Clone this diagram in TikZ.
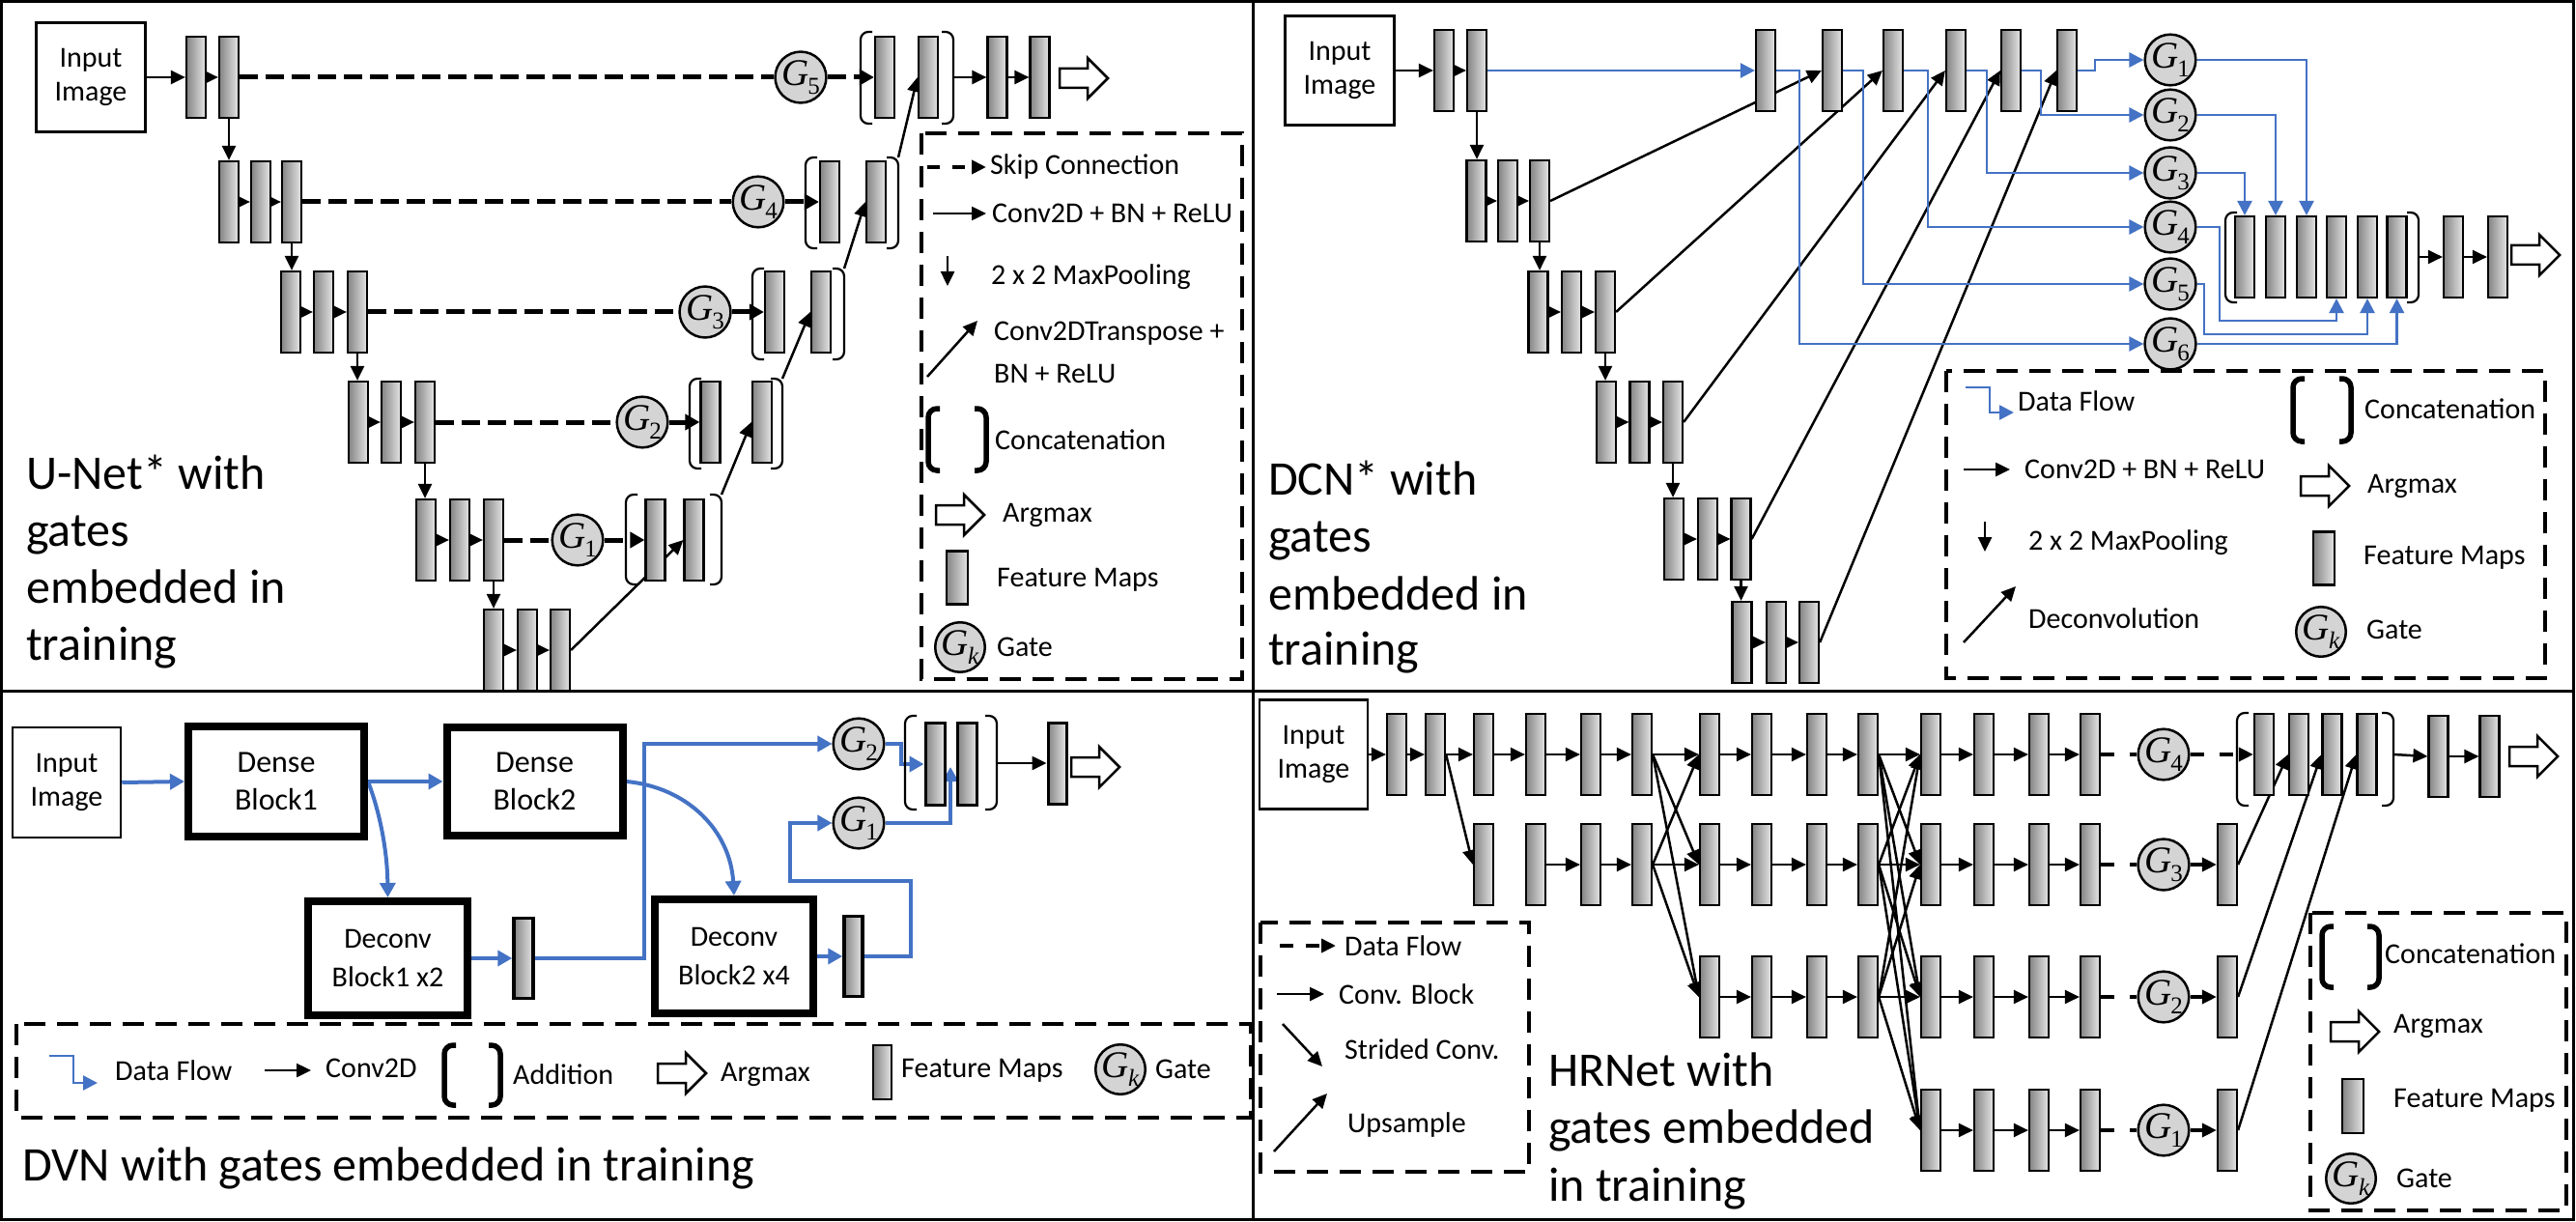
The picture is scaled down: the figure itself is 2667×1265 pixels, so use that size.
\documentclass[tikz,border=0pt]{standalone}
\usepackage{fontspec}
\setmainfont{Carlito}
\newfontfamily\gfont{Liberation Serif}
\usetikzlibrary{arrows.meta}
\definecolor{dblue}{HTML}{4472C4}
\pgfdeclarelayer{bg}
\pgfsetlayers{bg,main}
\newcommand\gsym[1]{{\gfont\itshape G}\kern-1pt\raisebox{-9pt}{\gfont\fontsize{25}{25}\selectfont #1}}
\newcommand\bkt[5]{%
  \draw[#5] ({#1+12},#3) -- (#1,#3) -- (#1,#4) -- ({#1+12},#4);
  \draw[#5] ({#2-12},#3) -- (#2,#3) -- (#2,#4) -- ({#2-12},#4);}
\tikzset{
  fm/.style={draw, line width=2.2pt, minimum width=20pt, minimum height=84pt, inner sep=0pt, left color=black!48, right color=black!10},
  lfm/.style={fm, minimum width=22pt, minimum height=55pt},
  gate/.style={circle, draw, line width=2.5pt, fill=black!17, minimum size=44pt, inner sep=0pt, font=\fontsize{39}{39}\selectfont},
  inbox/.style={draw, line width=2.5pt, align=center, inner sep=0pt, minimum width=113pt, minimum height=113pt, font=\fontsize{30}{35}\selectfont},
  blk/.style={draw, line width=8pt, align=center, inner sep=0pt, font=\fontsize{32}{39}\selectfont},
  arr/.style={line width=2.5pt, -{Triangle[length=15pt,width=14pt]}},
  barr/.style={color=dblue, line width=2.5pt, -{Triangle[length=15pt,width=15pt]}},
  bbarr/.style={color=dblue, line width=4pt, -{Triangle[length=15pt,width=16pt]}},
  skip/.style={line width=5pt, dash pattern=on 19pt off 8pt},
  hdash/.style={line width=3.5pt, dash pattern=on 14pt off 16pt},
  legbox/.style={line width=4pt, dash pattern=on 22pt off 12pt},
  lt/.style={anchor=west, font=\fontsize{30}{36}\selectfont, inner sep=0pt},
  ttl/.style={anchor=base west, font=\fontsize{50}{60}\selectfont, inner sep=0pt},
  brk/.style={line width=2.2pt, rounded corners=8pt},
  lbrk/.style={line width=5.5pt, rounded corners=9pt},
  frame/.style={line width=3pt},
  argmax/.pic={\draw[line width=2.5pt, fill=white] (-25,-10) -- (4,-10) -- (4,-21) -- (25,0) -- (4,21) -- (4,10) -- (-25,10) -- cycle;},
}
\begin{document}
\begin{tikzpicture}[x=1pt,y=-1pt]
\useasboundingbox (0,0) rectangle (2667,1265);
\begin{pgfonlayer}{bg}
\fill[white] (0,0) rectangle (2667,1265);
\end{pgfonlayer}

% ================= U-Net (top left) =================
\node[inbox] (uIn) at (94,80) {Input\\Image};
\foreach \n/\x in {1/203,2/237} \node[fm] (uA\n) at (\x,80) {};
\foreach \n/\x in {1/237,2/270,3/302} \node[fm] (uB\n) at (\x,209) {};
\foreach \n/\x in {1/301,2/335,3/370} \node[fm] (uC\n) at (\x,323) {};
\foreach \n/\x in {1/371,2/405,3/440} \node[fm] (uD\n) at (\x,437) {};
\foreach \n/\x in {1/441,2/476,3/511} \node[fm] (uE\n) at (\x,559) {};
\foreach \n/\x in {1/511,2/546,3/580} \node[fm] (uF\n) at (\x,673) {};
\node[fm] (uL5a) at (678.5,559) {};
\node[fm] (uL5b) at (718.5,559) {};
\node[fm] (uL4a) at (735.5,437) {};
\node[fm] (uL4b) at (789,437) {};
\node[fm] (uL3a) at (802,323) {};
\node[fm] (uL3b) at (850,323) {};
\node[fm] (uL2a) at (859,209) {};
\node[fm] (uL2b) at (907,209) {};
\node[fm] (uL1a) at (916,80) {};
\node[fm] (uL1b) at (961,80) {};
\node[fm] (uP1) at (1032.5,80) {};
\node[fm] (uP2) at (1076.5,80) {};
\bkt{648}{747}{512}{605}{brk}
\bkt{714}{810}{392}{485}{brk}
\bkt{779}{874}{278}{372}{brk}
\bkt{834}{930}{163}{257}{brk}
\bkt{891}{987}{33}{128}{brk}
\coordinate (uK5) at (747,512);
\coordinate (uK4) at (810,392);
\coordinate (uK3) at (874,278);
\coordinate (uK2) at (930,163);
\coordinate (uK1) at (987,80);
\node[gate] (uG5) at (829,80) {\gsym{5}};
\node[gate] (uG4) at (785,209) {\gsym{4}};
\node[gate] (uG3) at (730,323) {\gsym{3}};
\node[gate] (uG2) at (665,437) {\gsym{2}};
\node[gate] (uG1) at (598,559) {\gsym{1}};
\pic (uAm) at (1122,81) {argmax};
\begin{pgfonlayer}{bg}
\draw[arr] (uIn.east) -- (uA1.west);
\draw[arr] (uA1.east) -- (uA2.west);
\foreach \l in {B,C,D,E,F} {
  \draw[arr] (u\l1.east) -- (u\l2.west);
  \draw[arr] (u\l2.east) -- (u\l3.west);}
\draw[arr] (uA2.south) -- (uA2.south |- uB1.north);
\draw[arr] (uB3.south) -- (uB3.south |- uC1.north);
\draw[arr] (uC3.south) -- (uC3.south |- uD1.north);
\draw[arr] (uD3.south) -- (uD3.south |- uE1.north);
\draw[arr] (uE3.south) -- (uE3.south |- uF1.north);
\draw[skip] (uA2.east) -- (uG5.west);
\draw[skip] (uB3.east) -- (uG4.west);
\draw[skip] (uC3.east) -- (uG3.west);
\draw[skip] (uD3.east) -- (uG2.west);
\draw[skip] (uE3.east) -- (uG1.west);
\draw[skip,-{Triangle[length=15pt,width=16pt]}] (uG5.east) -- (uL1a.west);
\draw[skip,-{Triangle[length=15pt,width=16pt]}] (uG4.east) -- (uL2a.west);
\draw[skip,-{Triangle[length=15pt,width=16pt]}] (uG3.east) -- (uL3a.west);
\draw[skip,-{Triangle[length=15pt,width=16pt]}] (uG2.east) -- (uL4a.west);
\draw[skip,-{Triangle[length=15pt,width=16pt]}] (uG1.east) -- (uL5a.west);
\draw[arr] (uF3.east) -- (uL5b.west);
\draw[arr] (uK5) -- (uL4b.west);
\draw[arr] (uK4) -- (uL3b.west);
\draw[arr] (uK3) -- (uL2b.west);
\draw[arr] (uK2) -- (uL1b.west);
\draw[arr] (uK1) -- (uP1.west);
\draw[arr] (uP1.east) -- (uP2.west);
\end{pgfonlayer}
% legend
\draw[legbox] (954,138) rectangle (1286,703);
\draw[line width=4pt, dash pattern=on 13pt off 13pt, -{Triangle[length=15pt,width=14pt]}] (960,173) -- (1021,173);
\node[lt] (uLt1) at (1025,173) {Skip Connection};
\draw[arr] (966,221) -- (1021,221);
\node[lt] (uLt2) at (1027,221) {Conv2D + BN + ReLU};
\draw[arr] (981,265) -- (981,296);
\node[lt] (uLt3) at (1026,287) {2 x 2 MaxPooling};
\draw[arr] (960,390) -- (1012,332);
\node[lt] (uLt4) at (1029,345) {Conv2DTranspose +};
\node[lt] (uLt5) at (1029,387) {BN + ReLU};
\bkt{961}{1021}{423}{487}{lbrk}
\node[lt] (uLt6) at (1030,455) {Concatenation};
\pic (uLa) at (994,533) {argmax};
\node[lt] (uLt7) at (1038,533) {Argmax};
\node[lfm] (uLf) at (991,598) {};
\node[lt] (uLt8) at (1032,600) {Feature Maps};
\node[gate] (uLg) at (994,670) {\gsym{\itshape k}};
\node[lt] (uLt9) at (1032,670) {Gate};
\node[ttl] (uT1) at (27,506) {U-Net* with};
\node[ttl] (uT2) at (27,565) {gates};
\node[ttl] (uT3) at (27,624) {embedded in};
\node[ttl] (uT4) at (27,683) {training};

% ================= DCN (top right) =================
\node[inbox] (dIn) at (1387,73) {Input\\Image};
\foreach \n/\x in {1/1495,2/1529} \node[fm] (dA\n) at (\x,73) {};
\foreach \n/\x in {1/1528.5,2/1561,3/1594} \node[fm] (dB\n) at (\x,208) {};
\foreach \n/\x in {1/1592.5,2/1627,3/1662} \node[fm] (dC\n) at (\x,323) {};
\foreach \n/\x in {1/1663,2/1697.5,3/1732} \node[fm] (dD\n) at (\x,437) {};
\foreach \n/\x in {1/1733,2/1768,3/1802.5} \node[fm] (dE\n) at (\x,558) {};
\foreach \n/\x in {1/1803.5,2/1839,3/1873} \node[fm] (dF\n) at (\x,665) {};
\foreach \n/\x in {1/1828,2/1897,3/1960,4/2025,5/2082,6/2140} \node[fm] (dT\n) at (\x,73) {};
\foreach \n/\y in {1/62,2/119,3/179,4/235,5/294,6/356} \node[gate] (dG\n) at (2247,\y) {\gsym{\n}};
\foreach \n/\x in {1/2324,2/2356,3/2388,4/2419,5/2451,6/2481.5} \node[fm] (dM\n) at (\x,266) {};
\bkt{2304}{2504}{220}{313}{brk}
\coordinate (dK) at (2504,266);
\node[fm] (dP1) at (2540,266) {};
\node[fm] (dP2) at (2586,266) {};
\pic (dAm) at (2625,264) {argmax};
\begin{pgfonlayer}{bg}
\draw[arr] (dIn.east) -- (dA1.west);
\draw[arr] (dA1.east) -- (dA2.west);
\foreach \l in {B,C,D,E,F} {
  \draw[arr] (d\l1.east) -- (d\l2.west);
  \draw[arr] (d\l2.east) -- (d\l3.west);}
\draw[arr] (dA2.south) -- (dA2.south |- dB1.north);
\draw[arr] (dB3.south) -- (dB3.south |- dC1.north);
\draw[arr] (dC3.south) -- (dC3.south |- dD1.north);
\draw[arr] (dD3.south) -- (dD3.south |- dE1.north);
\draw[arr] (dE3.south) -- (dE3.south |- dF1.north);
\draw[arr] (dB3.east) -- (dT2.west);
\draw[arr] (dC3.east) -- (dT3.west);
\draw[arr] (dD3.east) -- (dT4.west);
\draw[arr] (dE3.east) -- (dT5.west);
\draw[arr] (dF3.east) -- (dT6.west);
\draw[barr] (dA2.east) -- (dT1.west);
\draw[barr] (dT1.east) -| (1863,356) -- (dG6.west);
\draw[barr] (dT2.east) -| (1929,294) -- (dG5.west);
\draw[barr] (dT3.east) -| (1996,235) -- (dG4.west);
\draw[barr] (dT4.east) -| (2057,179) -- (dG3.west);
\draw[barr] (dT5.east) -| (2113,119) -- (dG2.west);
\draw[barr] (dT6.east) -| (2169,62) -- (dG1.west);
\draw[barr] (dG1.east) -| (dM3.north);
\draw[barr] (dG2.east) -| (dM2.north);
\draw[barr] (dG3.east) -| (dM1.north);
\draw[barr] (dG4.east) -| (2298,332) -| (dM4.south);
\draw[barr] (dG5.east) -| (2282,346) -| (dM5.south);
\draw[barr] (dG6.east) -| (dM6.south);
\draw[arr] (dK) -- (dP1.west);
\draw[arr] (dP1.east) -- (dP2.west);
\end{pgfonlayer}
% legend
\draw[legbox] (2015,384) rectangle (2635,702);
\draw[barr] (2035,401) -- (2060,401) -- (2060,427) -- (2085,427);
\node[lt] (dLt1) at (2089,415) {Data Flow};
\draw[arr] (2033,486) -- (2081,486);
\node[lt] (dLt2) at (2096,486) {Conv2D + BN + ReLU};
\draw[arr] (2055,540) -- (2055,571);
\node[lt] (dLt3) at (2100,562) {2 x 2 MaxPooling};
\draw[arr] (2033,665) -- (2087,607);
\node[lt] (dLt4) at (2100,640) {Deconvolution};
\bkt{2374}{2434}{392}{457}{lbrk}
\node[lt] (dLt5) at (2448,423) {Concatenation};
\pic (dLa) at (2407,503) {argmax};
\node[lt] (dLt6) at (2451,503) {Argmax};
\node[lfm] (dLf) at (2406,578) {};
\node[lt] (dLt7) at (2447,577) {Feature Maps};
\node[gate] (dLg) at (2403,654) {\gsym{\itshape k}};
\node[lt] (dLt8) at (2450,652) {Gate};
\node[ttl] (dT1t) at (1313,512) {DCN* with};
\node[ttl] (dT2t) at (1313,571) {gates};
\node[ttl] (dT3t) at (1313,631) {embedded in};
\node[ttl] (dT4t) at (1313,688) {training};

% ================= DVN (bottom left) =================
\node[inbox, minimum width=112pt, minimum height=114pt] (vIn) at (69,810) {Input\\Image};
\node[blk, minimum width=182pt, minimum height=114pt] (vDB1) at (286,809) {Dense\\Block1};
\node[blk, minimum width=182pt, minimum height=112pt] (vDB2) at (553.5,809) {Dense\\Block2};
\node[blk, minimum width=165pt, minimum height=118pt, font=\fontsize{30}{40}\selectfont] (vDC1) at (401.5,992) {Deconv\\Block1 x2};
\node[blk, minimum width=164pt, minimum height=118pt, font=\fontsize{30}{40}\selectfont] (vDC2) at (760,990) {Deconv\\Block2 x4};
\node[fm, line width=3.5pt, minimum width=20pt, minimum height=83pt] (vM1) at (542,992) {};
\node[fm, line width=3.5pt, minimum width=19pt, minimum height=83pt] (vM2) at (883.5,990) {};
\node[gate] (vG2) at (889,770) {\gsym{2}};
\node[gate] (vG1) at (889,852) {\gsym{1}};
\node[fm, line width=3pt, minimum height=85pt] (vMa) at (968,791) {};
\node[fm, line width=3pt, minimum height=85pt] (vMb) at (1001.5,791) {};
\node[fm, line width=3pt, minimum width=19pt, minimum height=84pt] (vP) at (1094.5,790) {};
\bkt{937}{1032}{741}{838}{brk}
\coordinate (vK) at (1032,790);
\coordinate (vT1) at (984,794);
\pic (vAm) at (1134,794) {argmax};
\begin{pgfonlayer}{bg}
\draw[bbarr] (vIn.east) -- (vDB1.west);
\draw[bbarr] (vDB1.east) -- (vDB2.west);
\draw[bbarr] (vDB1.east) .. controls (393,840) and (401,880) .. (vDC1.north);
\draw[bbarr] (vDB2.east) .. controls (712,815) and (756,860) .. (vDC2.north);
\draw[bbarr] (vDC1.east) -- (vM1.west);
\draw[bbarr] (vM1.east) -| (667,770) -- (vG2.west);
\draw[bbarr] (vDC2.east) -- (vM2.west);
\draw[bbarr] (vM2.east) -| (943,912) -| (818,852) -- (vG1.west);
\draw[bbarr] (vG2.east) -| (933,791) -- (vMa.west);
\draw[bbarr] (vG1.east) -| (vT1);
\draw[arr] (vK) -- (vP.west);
\end{pgfonlayer}
% legend
\draw[legbox] (17,1060) rectangle (1295,1157);
\draw[barr] (51,1093) -- (76,1093) -- (76,1121) -- (101,1121);
\node[lt] (vLt1) at (119,1108) {Data Flow};
\draw[arr] (274,1108) -- (322,1108);
\node[lt] (vLt2) at (337,1106) {Conv2D};
\bkt{460}{518}{1082}{1144}{lbrk}
\node[lt] (vLt3) at (531,1112) {Addition};
\pic (vLa) at (706,1111) {argmax};
\node[lt] (vLt4) at (746,1112) {Argmax};
\node[lfm, minimum width=19pt, minimum height=56pt] (vLf) at (913.5,1110) {};
\node[lt] (vLt5) at (933,1108) {Feature Maps};
\node[gate] (vLg) at (1160,1107) {\gsym{\itshape k}};
\node[lt] (vLt6) at (1196,1107) {Gate};
\node[ttl] (vTt) at (23,1222) {DVN with gates embedded in training};

% ================= HRNet (bottom right) =================
\node[inbox, minimum width=112pt] (hIn) at (1360,781) {Input\\Image};
\foreach \c/\x in {1/1446,2/1486,3/1536,4/1590,5/1647,6/1700,7/1770,8/1824,9/1881,10/1934,11/1999,12/2054,13/2111,14/2164}
  \node[fm] (h1-\c) at (\x,781) {};
\foreach \c/\x in {3/1536,4/1590,5/1647,6/1700,7/1770,8/1824,9/1881,10/1934,11/1999,12/2054,13/2111,14/2164}
  \node[fm] (h2-\c) at (\x,895) {};
\foreach \c/\x in {7/1770,8/1824,9/1881,10/1934,11/1999,12/2054,13/2111,14/2164}
  \node[fm] (h3-\c) at (\x,1032) {};
\foreach \c/\x in {11/1999,12/2054,13/2111,14/2164}
  \node[fm] (h4-\c) at (\x,1170) {};
\node[gate] (hG4) at (2240,781) {\gsym{4}};
\node[gate] (hG3) at (2240,895) {\gsym{3}};
\node[gate] (hG2) at (2240,1032) {\gsym{2}};
\node[gate] (hG1) at (2240,1170) {\gsym{1}};
\node[fm] (hQ2) at (2306,895) {};
\node[fm] (hQ3) at (2306,1032) {};
\node[fm] (hQ4) at (2306,1170) {};
\foreach \n/\x in {1/2344,2/2380,3/2414.5,4/2450.5} \node[fm] (hM\n) at (\x,781) {};
\bkt{2316}{2478}{738}{834}{brk}
\coordinate (hK) at (2478,781);
\node[fm] (hO1) at (2524.5,783) {};
\node[fm] (hO2) at (2577.5,783) {};
\pic (hAm) at (2623,783) {argmax};
\begin{pgfonlayer}{bg}
\draw[arr] (hIn.east) -- (h1-1.west);
\foreach \a/\b in {1/2,2/3,3/4,4/5,5/6,7/8,8/9,9/10,11/12,12/13,13/14}
  \draw[arr] (h1-\a.east) -- (h1-\b.west);
\foreach \a/\b in {4/5,5/6,7/8,8/9,9/10,11/12,12/13,13/14}
  \draw[arr] (h2-\a.east) -- (h2-\b.west);
\foreach \a/\b in {7/8,8/9,9/10,11/12,12/13,13/14}
  \draw[arr] (h3-\a.east) -- (h3-\b.west);
\foreach \a/\b in {11/12,12/13,13/14}
  \draw[arr] (h4-\a.east) -- (h4-\b.west);
\draw[arr] (h1-2.east) -- (h2-3.west);
\foreach \s in {1,2} \foreach \t in {1,2,3}
  \draw[arr] (h\s-6.east) -- (h\t-7.west);
\foreach \s in {1,2,3} \foreach \t in {1,2,3,4}
  \draw[arr] (h\s-10.east) -- (h\t-11.west);
\draw[hdash] (h1-14.east) -- (hG4.west);
\draw[hdash] (h2-14.east) -- (hG3.west);
\draw[hdash] (h3-14.east) -- (hG2.west);
\draw[hdash] (h4-14.east) -- (hG1.west);
\draw[hdash,-{Triangle[length=15pt,width=14pt]}] (hG4.east) -- (hM1.west);
\draw[hdash,-{Triangle[length=15pt,width=14pt]}] (hG3.east) -- (hQ2.west);
\draw[hdash,-{Triangle[length=15pt,width=14pt]}] (hG2.east) -- (hQ3.west);
\draw[hdash,-{Triangle[length=15pt,width=14pt]}] (hG1.east) -- (hQ4.west);
\draw[arr] (hQ2.east) -- (hM2.west);
\draw[arr] (hQ3.east) -- (hM3.west);
\draw[arr] (hQ4.east) -- (hM4.west);
\draw[arr] (hK) -- (hO1.west);
\draw[arr] (hO1.east) -- (hO2.west);
\end{pgfonlayer}
% legends
\draw[legbox] (1305,955) rectangle (1583,1213);
\draw[line width=3.5pt, dash pattern=on 14pt off 13pt, -{Triangle[length=15pt,width=14pt]}] (1325,979) -- (1383,979);
\node[lt] (hLt1) at (1392,979) {Data Flow};
\draw[arr] (1322,1029) -- (1371,1029);
\node[lt] (hLt2) at (1386,1029) {Conv. Block};
\draw[arr] (1328,1060) -- (1369,1104);
\node[lt] (hLt3) at (1392,1086) {Strided Conv.};
\draw[arr] (1319,1192) -- (1374,1132);
\node[lt] (hLt4) at (1395,1164) {Upsample};
\draw[legbox] (2392,945) rectangle (2657,1253);
\bkt{2404}{2463}{959}{1022}{lbrk}
\node[lt] (hLt5) at (2469,987) {Concatenation};
\pic (hLa) at (2438,1068) {argmax};
\node[lt] (hLt6) at (2478,1062) {Argmax};
\node[lfm, minimum height=56pt] (hLf) at (2436,1145) {};
\node[lt] (hLt7) at (2478,1139) {Feature Maps};
\node[gate] (hLg) at (2434,1220) {\gsym{\itshape k}};
\node[lt] (hLt8) at (2481,1220) {Gate};
\node[ttl] (hT1) at (1603,1124) {HRNet with};
\node[ttl] (hT2) at (1603,1183) {gates embedded};
\node[ttl] (hT3) at (1603,1243) {in training};

% ================= frame =================
\draw[frame] (1.5,1.5) rectangle (2664,1262);
\draw[frame] (1297,1.5) -- (1297,1262);
\draw[frame] (1.5,715) -- (2664,715);
\end{tikzpicture}
\end{document}
